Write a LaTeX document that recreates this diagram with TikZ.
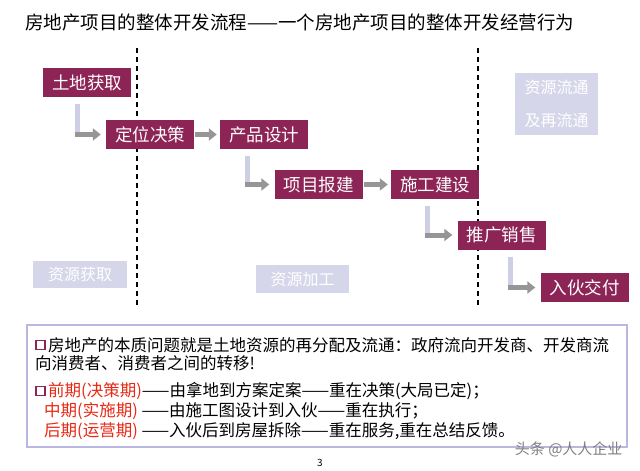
\documentclass[tikz,border=0pt]{standalone}
\usepackage{fontspec}
\setmainfont{Noto Sans CJK SC}
\usetikzlibrary{arrows.meta}
\definecolor{stagefill}{RGB}{140,36,86}
\definecolor{resfill}{RGB}{214,214,234}
\definecolor{barfill}{RGB}{206,206,228}
\definecolor{arrowgray}{RGB}{150,150,150}
\definecolor{periodred}{RGB}{232,40,20}
\definecolor{panelline}{RGB}{184,184,224}

\begin{document}
\begin{tikzpicture}[x=1pt,y=-1pt,
  stage/.style={fill=stagefill,text=white,minimum width=88pt,minimum height=29pt,
    inner sep=0pt,font=\fontsize{17.5}{18}\selectfont},
  res/.style={fill=resfill,text=white,inner sep=0pt,font=\fontsize{16}{16}\selectfont},
  bar/.style={draw=barfill,line width=5pt},
  flow/.style={draw=arrowgray,line width=5pt,-{Triangle[length=8pt,width=12pt]}},
  divider/.style={line width=1.5pt,dash pattern=on 5pt off 4pt},
  bullet/.style={draw=stagefill,line width=1.8pt,minimum size=9pt,inner sep=0pt},
  body/.style={anchor=west,inner sep=0pt,font=\fontsize{16.5}{17}\selectfont},
  period/.style={text=periodred}]

  \useasboundingbox (0,0) rectangle (640,471);
  \fill[white] (0,0) rectangle (640,471);

  % title
  \node[anchor=west,inner sep=0pt,font=\fontsize{18.5}{19}\selectfont] (title) at (25,22)
    {房地产项目的整体开发流程——一个房地产项目的整体开发经营行为};

  % dividers
  \coordinate (d1top) at (137,48);
  \coordinate (d1bot) at (137,306);
  \coordinate (d2top) at (478,48);
  \coordinate (d2bot) at (478,306);
  \draw[divider] (d1top) -- (d1bot);
  \draw[divider] (d2top) -- (d2bot);

  % stages
  \node[stage] (land) at (87,82.5) {土地获取};
  \node[stage] (position) at (150,134.5) {定位决策};
  \node[stage] (product) at (264,134.5) {产品设计};
  \node[stage] (approval) at (318.5,184.5) {项目报建};
  \node[stage] (build) at (435,184.5) {施工建设};
  \node[stage] (sales) at (501.5,235) {推广销售};
  \node[stage] (deliver) at (584.5,287.5) {入伙交付};

  % resource labels
  \node[res,minimum width=83pt,minimum height=62pt,align=center,
    font=\fontsize{16}{33}\selectfont] (circulate) at (556.5,104) {资源流通\\及再流通};
  \node[res,minimum width=94pt,minimum height=27pt] (acquire) at (80,274.5) {资源获取};
  \node[res,minimum width=93pt,minimum height=28pt] (process) at (302.5,279) {资源加工};

  % connectors
  \coordinate (k1) at (77,0);
  \coordinate (k2) at (247,0);
  \coordinate (k3) at (427,0);
  \coordinate (k4) at (510,0);

  \draw[bar] ([yshift=-7pt]land.south -| k1) -- ([yshift=-2.5pt]k1 |- position.west);
  \draw[flow] ([xshift=-2.5pt]k1 |- position.west) -- ([xshift=-5pt]position.west);
  \draw[flow] ([xshift=1pt]position.east) -- ([xshift=-3pt]product.west);

  \draw[bar] ([yshift=-7pt]product.south -| k2) -- ([yshift=-2.5pt]k2 |- approval.west);
  \draw[flow] ([xshift=-2.5pt]k2 |- approval.west) -- ([xshift=-5pt]approval.west);
  \draw[flow] ([xshift=1pt]approval.east) -- ([xshift=-3pt]build.west);

  \draw[bar] ([yshift=-7pt]build.south -| k3) -- ([yshift=-2.5pt]k3 |- sales.west);
  \draw[flow] ([xshift=-2.5pt]k3 |- sales.west) -- ([xshift=-5pt]sales.west);

  \draw[bar] ([yshift=-7pt]sales.south -| k4) -- ([yshift=-2.5pt]k4 |- deliver.west);
  \draw[flow] ([xshift=-2.5pt]k4 |- deliver.west) -- ([xshift=-5pt]deliver.west);

  % summary panel
  \draw[panelline,line width=1.2pt] (27,325) rectangle (627,447);
  \node[bullet] (b1) at (40.5,345) {};
  \node[body] (l1) at (48,345) {房地产的本质问题就是土地资源的再分配及流通：政府流向开发商、开发商流};
  \node[body] (l2) at (35,363) {向消费者、消费者之间的转移!};
  \node[bullet] (b2) at (40.5,391) {};
  \node[body] (l3) at (48,391) {\textcolor{periodred}{前期(决策期)}——由拿地到方案定案——重在决策(大局已定)；};
  \node[body] (l4) at (44,411) {\textcolor{periodred}{中期(实施期)} ——由施工图设计到入伙——重在执行；};
  \node[body] (l5) at (44,431) {\textcolor{periodred}{后期(运营期)} ——入伙后到房屋拆除——重在服务,重在总结反馈。};

  \node[font=\fontsize{10}{10}\selectfont] (page) at (320,463) {3};
  \node[anchor=east,text=gray,font=\fontsize{15}{15}\selectfont] (mark) at (626,449) {头条 @人人企业};
\end{tikzpicture}
\end{document}
